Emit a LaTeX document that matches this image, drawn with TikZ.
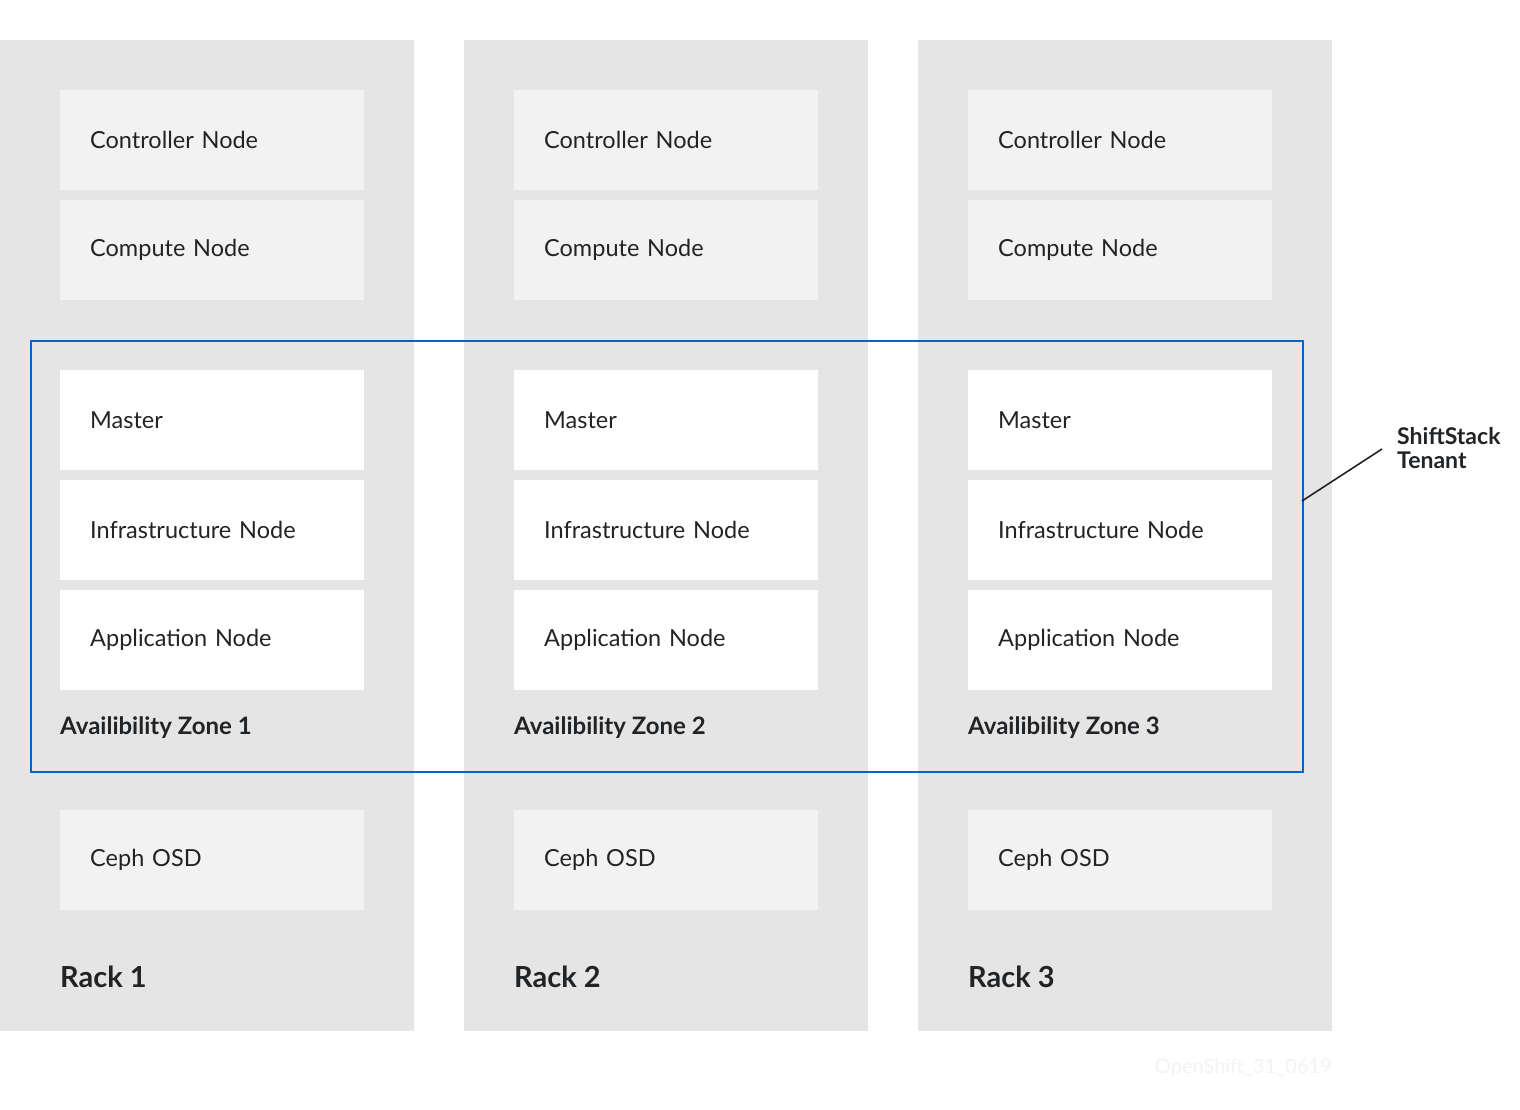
\documentclass[tikz,border=0pt]{standalone}
\usepackage{fontspec}
\setmainfont{Lato}
\begin{document}
\definecolor{rackgray}{HTML}{E5E5E5}
\definecolor{boxgray}{HTML}{F2F2F2}
\definecolor{zoneblue}{HTML}{0066CC}
\definecolor{ink}{HTML}{212427}
\definecolor{faint}{HTML}{F3F3F3}
\begin{tikzpicture}[x=1pt,y=-1pt,
  rack/.style={fill=rackgray,draw=none},
  srv/.style={draw=none,anchor=north west,minimum height=100pt,
    text width=244pt,inner xsep=30pt,inner ysep=0pt,align=left,
    font=\fontsize{23.5}{27}\selectfont,text=ink},
  infra/.style={srv,fill=boxgray},
  tenant/.style={srv,fill=white},
  zonelbl/.style={anchor=west,inner sep=0pt,font=\fontsize{24}{28}\selectfont\bfseries,text=ink},
  racklbl/.style={anchor=west,inner sep=0pt,font=\fontsize{29}{34}\selectfont\bfseries,text=ink},
  zone/.style={draw=zoneblue,line width=1.6pt},
  callout/.style={draw=ink,line width=1.6pt}]
\useasboundingbox (0,0) rectangle (1520,1110);
\fill[white] (0,0) rectangle (1520,1110);

% three racks
\foreach \i/\rx/\rw/\bx in {1/0/414/60, 2/464/404/514, 3/918/414/968}{
  \node[rack,anchor=north west,minimum width=\rw pt,minimum height=991pt,inner sep=0pt]
    (rack\i) at (\rx,40) {};
  \node[infra] (ctl\i) at (\bx,90) {Controller Node};
  \node[infra] (cmp\i) at (\bx,200) {Compute Node};
  \node[tenant] (mst\i) at (\bx,370) {Master};
  \node[tenant] (inf\i) at (\bx,480) {Infrastructure Node};
  \node[tenant] (app\i) at (\bx,590) {Application Node};
  \node[zonelbl] (az\i) at (\bx,728) {Availibility Zone \i};
  \node[infra] (ceph\i) at (\bx,810) {Ceph OSD};
  \node[racklbl] (rl\i) at (\bx,977) {Rack \i};
}

% tenant spanning the availability zones
\node[zone,anchor=north west,minimum width=1272pt,minimum height=431pt,inner sep=0pt]
  (tenantbox) at (30,340) {};
\coordinate (tenanthook) at (1302,501);
\node[anchor=north west,inner sep=0pt,align=left,
  font=\fontsize{23}{24}\selectfont\bfseries,text=ink]
  (tenantlbl) at (1397,427) {ShiftStack\\Tenant};
\coordinate (calloutend) at (1382,449);
\draw[callout] (tenanthook) -- (calloutend);

% figure tag
\node[anchor=east,inner sep=0pt,font=\fontsize{20}{24}\selectfont,text=faint]
  (tag) at (1332,1068) {OpenShift\_31\_0619};
\end{tikzpicture}
\end{document}
